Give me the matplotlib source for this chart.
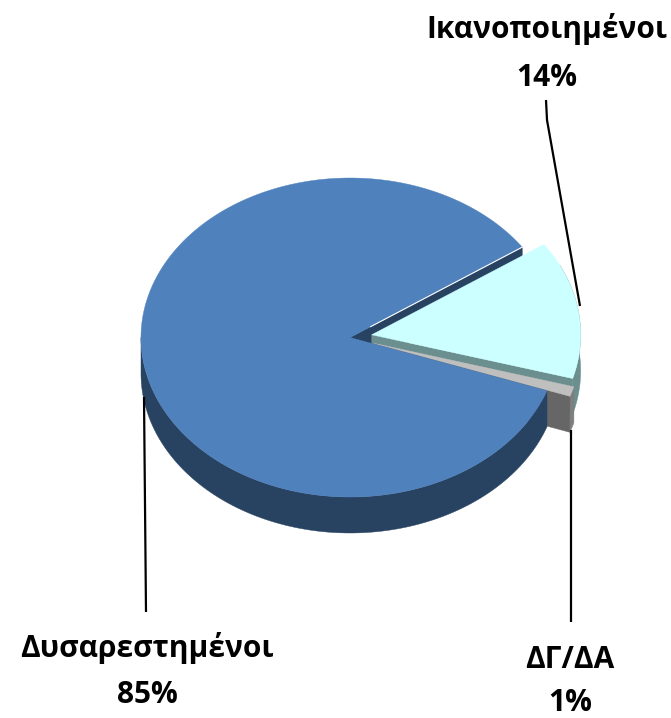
import numpy as np
import matplotlib
matplotlib.use("Agg")
import matplotlib.pyplot as plt
from matplotlib.patches import Polygon

categories = ["Ικανοποιημένοι", "ΔΓ/ΔΑ", "Δυσαρεστημένοι"]
values = [14, 1, 85]
pct_labels = ["14%", "1%", "85%"]

top_colors = ["#CCFFFF", "#BFBFBF", "#4F81BD"]
rim_colors = ["#6B8F8F", "#7F7F7F", "#284261"]
cut_colors = ["#6B8F8F", "#666666", "#284261"]

W, H = 671, 718
CX, CY, RX, RY, DEPTH = 350, 337.5, 209, 159.5, 36
START = 34.5
EXPLODE = [0.105, 0.115, 0.0]

fig = plt.figure(figsize=(W / 100, H / 100), dpi=100, facecolor="white")
ax = fig.add_axes([0, 0, 1, 1])
ax.set_xlim(0, W)
ax.set_ylim(H, 0)
ax.axis("off")

# slice angles, clockwise from the start angle
ends = START - np.cumsum(values) * 3.6
starts = np.concatenate([[START], ends[:-1]])


def apex(i):
    mid = np.radians((starts[i] + ends[i]) / 2)
    return (CX + EXPLODE[i] * RX * np.cos(mid), CY - EXPLODE[i] * RY * np.sin(mid))


def rim(i, deg):
    a = np.radians(deg)
    x0, y0 = apex(i)
    return np.column_stack([x0 + RX * np.cos(a), y0 - RY * np.sin(a)])


def poly(points, color, z):
    ax.add_patch(Polygon(points, closed=True, facecolor=color, edgecolor=color,
                         linewidth=0.3, zorder=z))


def cut_wall(i, deg, color, z):
    p = rim(i, deg)[0]
    a = np.array(apex(i))
    d = np.array([0, DEPTH])
    poly([a, p, p + d, a + d], color, z)


def outer_wall(i, d1, d2, color, z):
    d1, d2 = max(d1, d2), min(d1, d2)
    # only the front half of the ring is visible
    angs = np.linspace(d1, d2, 300)
    s = np.sin(np.radians(angs))
    angs = angs[(s <= 0.0) | (np.cos(np.radians(angs)) > 0.9)]
    if len(angs) < 2:
        return
    top = rim(i, angs)
    bottom = top + np.array([0, DEPTH])
    poly(np.vstack([top, bottom[::-1]]), color, z)


def top_face(i, z):
    angs = np.linspace(starts[i], ends[i], 300)
    poly(np.vstack([apex(i), rim(i, angs)]), top_colors[i], z)


# back to front: blue cut wall, cyan slice, grey slice, blue body
cut_wall(2, ends[2], cut_colors[2], 1)
outer_wall(0, starts[0], ends[0], rim_colors[0], 2)
cut_wall(0, ends[0], cut_colors[0], 3)
top_face(0, 4)
outer_wall(1, starts[1], ends[1], rim_colors[1], 5)
cut_wall(1, ends[1], cut_colors[1], 5.5)
top_face(1, 6)
outer_wall(2, starts[2] + 0, -180, rim_colors[2], 7)
top_face(2, 8)

# thin white highlight on the blue slice's cut edge
edge = rim(2, ends[2])[0]
ax.plot([CX + 0.12 * (edge[0] - CX), edge[0]], [CY + 0.12 * (edge[1] - CY), edge[1]],
        color="white", lw=0.8, zorder=9)

# leader lines
leaders = [
    ([546, 547, 580], [100, 120, 306]),
    ([571, 571], [430, 622]),
    ([144, 146], [397, 612]),
]
for xs, ys in leaders:
    ax.plot(xs, ys, color="black", lw=1.6, zorder=10, solid_capstyle="butt")

# labels
label_pos = [(547, 29, 78), (570, 660, 703), (147, 648, 695)]
for name, pct, (x, y1, y2) in zip(categories, pct_labels, label_pos):
    for txt, y in ((name, y1), (pct, y2)):
        ax.text(x, y, txt, ha="center", va="center", fontsize=21.5, fontweight="bold",
                family="Open Sans", color="black", zorder=11)

fig.savefig("out.png", dpi=100, facecolor="white")
